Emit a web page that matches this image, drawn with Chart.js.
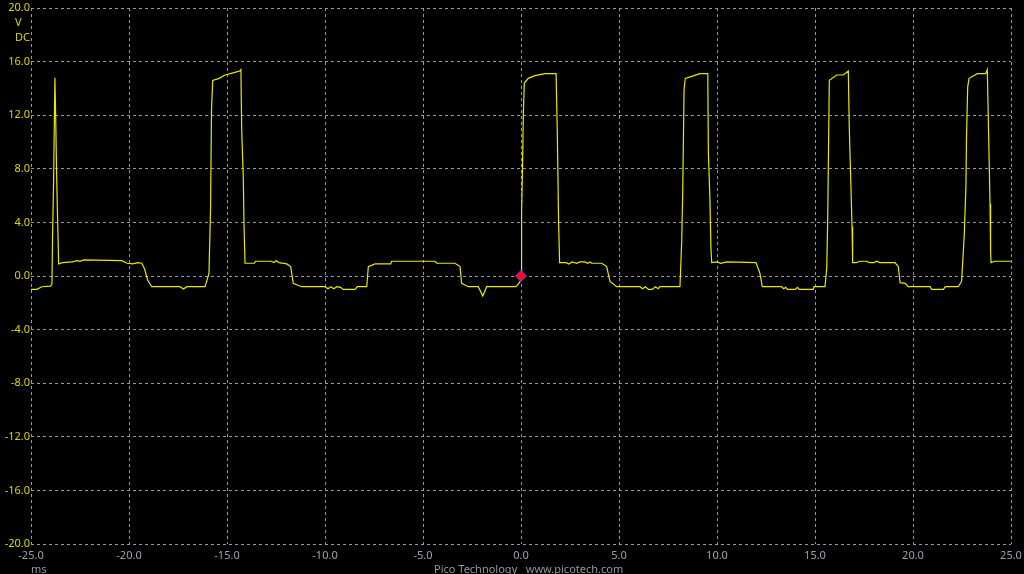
<!DOCTYPE html>
<html>
<head>
<meta charset="utf-8">
<title>Pico scope trace</title>
<script src="https://cdn.jsdelivr.net/npm/chart.js@4/dist/chart.umd.min.js"></script>
<style>
  html, body { margin: 0; padding: 0; background: #000; }
  #wrap { position: relative; width: 1024px; height: 574px; overflow: hidden; }
  canvas { position: absolute; left: 0; top: 0; }
  .lbl { position: absolute; font-family: "Noto Sans", sans-serif; font-size: 11px; line-height: 12px; white-space: pre; }
</style>
</head>
<body>
<div id="wrap">
  <canvas id="scope" width="1024" height="574"></canvas>
  <div class="lbl" style="left:15px; top:16px; color:#d8d800;">V</div>
  <div class="lbl" style="left:15px; top:31px; color:#d8d800;">DC</div>
  <div class="lbl" style="left:31px; top:563px; color:#8f9aa2;">ms</div>
  <div class="lbl" style="left:434px; top:563px; color:#8f9aa2;">Pico Technology   www.picotech.com</div>
</div>
<script>
"use strict";

// Time (ms) and voltage (V) of the channel A trace
const traceTime = [
  -25.0, -24.7, -24.45, -24.0, -23.93, -23.9, -23.85, -23.78, -23.74, -23.70, -23.65, -23.59,
  -23.4, -22.9, -22.65, -22.5, -22.3, -20.37, -20.1, -19.8, -19.55, -19.35, -19.2, -19.05, -18.84,
  -17.4, -17.22, -17.05, -16.12, -15.92, -15.84, -15.79, -15.73, -15.4, -15.1, -14.6, -14.35, -14.29,
  -14.25, -14.17, -14.13, -14.08, -13.6, -13.55, -12.75, -12.6, -12.5, -12.35, -11.95, -11.75, -11.62,
  -11.19, -10.0, -9.85, -9.7, -9.55, -9.4, -9.2, -9.08, -8.47, -8.35, -7.87, -7.79, -7.45, -6.65, -6.6,
  -4.39, -4.3, -3.37, -3.11, -3.03, -2.69, -2.18, -1.95, -1.75, -0.26, -0.14, 0.0,
  0.03, 0.08, 0.12, 0.17, 0.37, 0.71, 1.22, 1.79, 1.85, 1.92, 1.97, 2.3, 2.45, 2.6, 2.85, 3.0, 3.25,
  3.4, 3.52, 3.6, 4.12, 4.37, 4.54, 4.88, 6.07, 6.2, 6.35, 6.5, 6.7, 6.85, 7.0, 7.09, 8.11, 8.2, 8.25,
  8.32, 8.38, 8.71, 9.13, 9.53, 9.56, 9.64, 9.69, 9.73, 10.0, 10.2, 10.5, 11.99, 12.19, 12.31, 13.3,
  13.4, 13.5, 13.6, 14.0, 14.1, 14.2, 14.91, 14.95, 15.51, 15.6, 15.65, 15.68, 15.73, 16.11, 16.45,
  16.7, 16.75, 16.82, 16.89, 16.92, 17.1, 17.3, 17.6, 17.8, 18.0, 18.15, 18.3, 19.08, 19.25, 19.34,
  19.6, 19.76, 20.87, 20.95, 21.55, 21.65, 22.31, 22.48, 22.62, 22.7, 22.73, 22.79, 22.86, 23.28,
  23.71, 23.79, 23.83, 23.88, 23.93, 23.96, 23.98, 24.18, 25.0
];
const traceVolt = [
  -1.0, -1.0, -0.8, -0.75, -0.6, 3.0, 6.8, 14.8, 11.8, 8.2, 4.7, 0.9,
  1.0, 1.05, 1.15, 1.1, 1.2, 1.15, 0.95, 0.9, 1.0, 0.95, 0.5, -0.3, -0.8,
  -0.8, -0.97, -0.8, -0.8, 0.2, 4.9, 12.4, 14.6, 14.75, 15.0, 15.2, 15.3, 15.4,
  10.9, 7.4, 3.7, 0.95, 0.95, 1.1, 1.1, 1.0, 1.15, 1.0, 0.9, 0.7, -0.55,
  -0.8, -0.8, -0.95, -0.8, -0.95, -0.8, -0.85, -1.0, -1.0, -0.8, -0.8, 0.7, 0.9, 0.9, 1.1,
  1.1, 0.95, 0.95, 0.7, -0.55, -0.8, -0.8, -1.5, -0.8, -0.8, -0.6, -0.3,
  4.7, 8.3, 12.1, 14.4, 14.75, 14.95, 15.1, 15.1, 10.9, 3.9, 1.0, 1.0, 0.9, 1.05, 0.95, 1.05, 1.05,
  0.95, 1.05, 0.95, 0.95, 0.7, -0.4, -0.8, -0.8, -0.95, -0.8, -1.0, -1.0, -0.8, -0.95, -0.8, -0.8, 2.6, 6.2,
  13.9, 14.75, 14.9, 15.1, 15.1, 9.2, 5.7, 2.1, 1.0, 1.05, 0.95, 1.05, 1.0, 0.2, -0.8, -0.8,
  -0.95, -0.85, -1.0, -1.0, -0.85, -1.0, -1.0, -0.8, -0.8, 0.6, 4.4, 8.2, 14.6, 15.0, 15.0,
  15.3, 11.0, 7.4, 3.7, 1.0, 1.0, 1.1, 1.1, 1.0, 1.0, 1.1, 1.0, 1.0, 0.7, -0.5,
  -0.55, -0.8, -0.8, -1.0, -1.0, -0.8, -0.8, -0.4, 3.2, 6.7, 10.3, 14.1, 14.75, 15.1,
  15.1, 15.4, 12.6, 9.0, 5.4, 1.8, 1.0, 1.1, 1.1
];

// Trigger marker
const triggerTime = [0.0];
const triggerVolt = [0.0];

// Axis ranges and tick spacing
const timeRange = [-25, 25];
const timeStep = 5;
const voltRange = [-20, 20];
const voltStep = 4;

const tracePoints = traceTime.map((t, i) => ({ x: t, y: traceVolt[i] }));
const triggerPoints = triggerTime.map((t, i) => ({ x: t, y: triggerVolt[i] }));

const gridColor = "#8c9ca6";
const labelFont = { family: "Noto Sans", size: 11 };

new Chart(document.getElementById("scope"), {
  type: "scatter",
  data: {
    datasets: [
      {
        label: "Trigger",
        data: triggerPoints,
        pointStyle: "rectRot",
        pointRadius: 5.5,
        backgroundColor: "#ff0a1e",
        borderColor: "#5a3cff",
        borderWidth: 1,
        showLine: false,
      },
      {
        label: "Channel A",
        data: tracePoints,
        showLine: true,
        borderColor: "#e8e800",
        borderWidth: 1.2,
        pointRadius: 0,
        tension: 0,
      },
    ],
  },
  options: {
    responsive: false,
    animation: false,
    layout: { padding: { top: 8, right: 13 } },
    plugins: { legend: { display: false }, tooltip: { enabled: false } },
    scales: {
      x: {
        type: "linear",
        min: timeRange[0],
        max: timeRange[1],
        afterFit: (scale) => {
          scale.height = 30;
          scale.paddingRight = 0;
          scale.paddingLeft = 0;
        },
        grid: { color: gridColor, drawTicks: false },
        border: { display: false, dash: [3, 3] },
        ticks: {
          stepSize: timeStep,
          color: "#98a2aa",
          font: labelFont,
          padding: 5,
          callback: (v) => Number(v).toFixed(1),
        },
      },
      y: {
        type: "linear",
        min: voltRange[0],
        max: voltRange[1],
        afterFit: (scale) => {
          scale.width = 31;
          scale.paddingTop = 0;
          scale.paddingBottom = 0;
        },
        grid: { color: gridColor, drawTicks: false },
        border: { display: false, dash: [3, 3] },
        ticks: {
          stepSize: voltStep,
          color: "#d8d800",
          font: labelFont,
          padding: 1,
          callback: (v) => Number(v).toFixed(1),
        },
      },
    },
  },
});
</script>
</body>
</html>
